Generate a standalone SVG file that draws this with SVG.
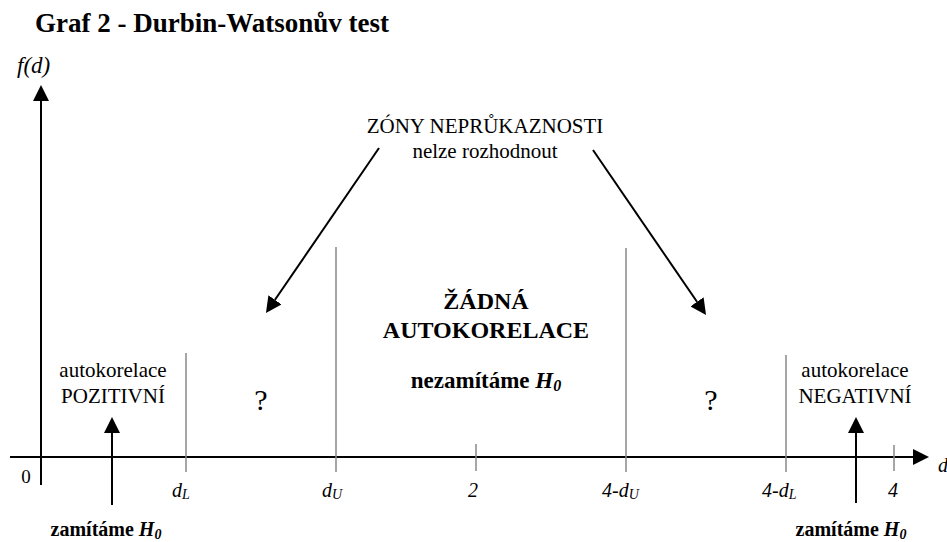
<svg xmlns="http://www.w3.org/2000/svg" width="947" height="542" viewBox="0 0 947 542">
<defs>
<style>
.b{font-weight:bold}
.i{font-style:italic}
.ax{stroke:#000;stroke-width:2;fill:none}
.ar{stroke:#000;stroke-width:2;fill:none}
.g{stroke:#888;stroke-width:1.5;fill:none}
.lbl{font-size:21px}
.tk{font-size:20px;font-style:italic}
.sub{font-size:14px}
</style>
<marker id="ah" markerUnits="userSpaceOnUse" markerWidth="16" markerHeight="16" refX="0" refY="8" orient="auto" viewBox="0 0 16 16">
<path d="M0,0 L16,8 L0,16 Z" fill="#000"/>
</marker>
</defs>
<rect width="947" height="542" fill="#fff"/>
<g font-family="'Liberation Serif', 'Times New Roman', Times, 'DejaVu Serif', serif" fill="#000">
<text id="title" class="b" x="35" y="32" font-size="27">Graf 2 - Durbin-Watsonův test</text>
<g id="connectors">
<line class="ax" x1="41" y1="485" x2="41" y2="101" marker-end="url(#ah)"/>
<line class="ax" x1="10" y1="457" x2="913" y2="457" marker-end="url(#ah)"/>
<line class="ar" x1="379" y1="148" x2="275" y2="299.8" marker-end="url(#ah)"/>
<line class="ar" x1="593" y1="150" x2="697" y2="301.8" marker-end="url(#ah)"/>
<line class="ar" x1="112" y1="505" x2="112" y2="433" marker-end="url(#ah)"/>
<line class="ar" x1="856" y1="503" x2="856" y2="433" marker-end="url(#ah)"/>
</g>
<g id="gridlines">
<line class="g" x1="186" y1="353" x2="186" y2="472"/>
<line class="g" x1="336" y1="247" x2="336" y2="472"/>
<line class="g" x1="476" y1="444" x2="476" y2="471"/>
<line class="g" x1="626" y1="248" x2="626" y2="472"/>
<line class="g" x1="786" y1="355" x2="786" y2="472"/>
<line class="g" x1="894" y1="445" x2="894" y2="471"/>
</g>
<g id="axis-labels">
<text class="i" x="17" y="73" font-size="23">f(d)</text>
<text x="26" y="483" font-size="19" text-anchor="middle">0</text>
<text class="tk" x="172" y="497">d<tspan class="sub" dy="2">L</tspan></text>
<text class="tk" x="322" y="497">d<tspan class="sub" dy="2">U</tspan></text>
<text class="tk" x="473" y="497" text-anchor="middle">2</text>
<text class="tk" x="602" y="497">4-d<tspan class="sub" dy="2">U</tspan></text>
<text class="tk" x="762" y="497">4-d<tspan class="sub" dy="2">L</tspan></text>
<text class="tk" x="893" y="497" text-anchor="middle">4</text>
<text class="tk" x="938" y="472">d</text>
</g>
<g id="zones-label">
<text class="lbl" x="485" y="133" text-anchor="middle">ZÓNY NEPRŮKAZNOSTI</text>
<text class="lbl" x="485" y="158" text-anchor="middle">nelze rozhodnout</text>
</g>
<g id="positive">
<text class="lbl" x="113" y="377" text-anchor="middle">autokorelace</text>
<text class="lbl" x="113" y="403" text-anchor="middle">POZITIVNÍ</text>
<text class="b" x="106" y="536" font-size="20" text-anchor="middle">zamítáme <tspan class="i">H</tspan><tspan class="i sub" dy="3">0</tspan></text>
</g>
<g id="q-left">
<text x="261" y="410" font-size="30" text-anchor="middle">?</text>
</g>
<g id="none">
<text class="b" x="486" y="309" font-size="24" text-anchor="middle">ŽÁDNÁ</text>
<text class="b" x="486" y="338" font-size="24" text-anchor="middle">AUTOKORELACE</text>
<text class="b" x="486" y="388" font-size="23" text-anchor="middle">nezamítáme <tspan class="i">H</tspan><tspan class="i" font-size="16" dy="3">0</tspan></text>
</g>
<g id="q-right">
<text x="711" y="410" font-size="30" text-anchor="middle">?</text>
</g>
<g id="negative">
<text class="lbl" x="855" y="377" text-anchor="middle">autokorelace</text>
<text class="lbl" x="855" y="403" text-anchor="middle">NEGATIVNÍ</text>
<text class="b" x="851" y="536" font-size="20" text-anchor="middle">zamítáme <tspan class="i">H</tspan><tspan class="i sub" dy="3">0</tspan></text>
</g>
</g>
</svg>
